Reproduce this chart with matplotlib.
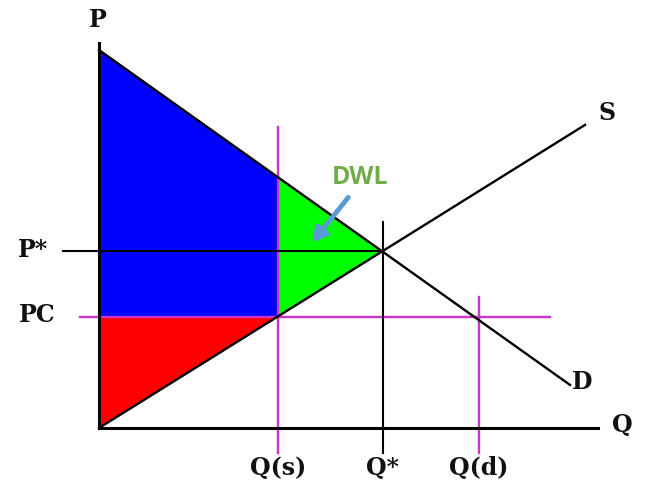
import matplotlib.pyplot as plt
from matplotlib.patches import Polygon

# model values (units: 1 unit ~ 37.8 px in the original picture)
demand_q = [0, 12.46]
demand_p = [10, 1.14]
supply_q = [0, 12.86]
supply_p = [0, 8.02]
q_s, q_star, q_d = 4.74, 7.51, 10.05
p_star, p_c = 4.68, 2.94
p_dem_qs = 6.63  # demand price at Q(s)

q_labels = ['Q(s)', 'Q*', 'Q(d)']

unit = 37.8
ox, oy = 99, 428
W, H = 646, 493

fig = plt.figure(figsize=(W / 100, H / 100), dpi=100)
ax = fig.add_axes([0, 0, 1, 1])
ax.set_xlim(-ox / unit, (W - ox) / unit)
ax.set_ylim(-(H - oy) / unit, oy / unit)
ax.axis('off')

blue = Polygon([(0, demand_p[0]), (q_s, p_dem_qs), (q_s, p_c), (0, p_c)],
               closed=True, fc='#0000ff', ec='none', zorder=1)
green = Polygon([(q_s, p_dem_qs), (q_star, p_star), (q_s, p_c)],
                closed=True, fc='#00ff00', ec='none', zorder=1)
red = Polygon([(0, p_c), (q_s, p_c), (0, 0)],
              closed=True, fc='#ff0000', ec='none', zorder=1)
for p in (blue, green, red):
    ax.add_patch(p)

mag = '#cc33cc'
# magenta guides
ax.plot([-0.5, 11.93], [p_c, p_c], color=mag, lw=1.7, zorder=2)
ax.plot([q_s, q_s], [7.96, -0.66], color=mag, lw=1.7, zorder=2)
ax.plot([q_d, q_d], [3.47, -0.66], color=mag, lw=1.7, zorder=2)

# black lines
ax.plot([-0.95, q_star], [p_star, p_star], color='black', lw=1.5, zorder=3)
ax.plot([q_star, q_star], [5.45, -0.66], color='black', lw=1.5, zorder=3)
ax.plot(demand_q, demand_p, color='black', lw=1.7, zorder=3)
ax.plot(supply_q, supply_p, color='black', lw=1.7, zorder=3)

# axes
ax.plot([0, 0], [0, 10.19], color='black', lw=2.2, zorder=4)
ax.plot([0, 13.2], [0, 0], color='black', lw=2.2, zorder=4)

lab = dict(family='DejaVu Serif', weight='bold', fontsize=17,
           ha='center', va='center', color='#111111')
ax.text(-0.03, 10.79, 'P', **lab)
ax.text(13.44, 8.33, 'S', **lab)
ax.text(12.78, 1.22, 'D', **lab)
ax.text(13.84, 0.08, 'Q', **lab)
ax.text(-1.75, 4.71, 'P*', **lab)
ax.text(-1.64, 2.99, 'PC', **lab)
for q, t in zip([q_s, q_star, q_d], q_labels):
    ax.text(q, -1.06, t, **lab)

ax.text(6.9, 6.64, 'DWL', family='Open Sans', weight='bold', fontsize=18,
        color='#70ad47', ha='center', va='center')
ax.annotate('', xy=(5.6, 4.85), xytext=(6.64, 6.16),
            arrowprops=dict(arrowstyle='-|>,head_width=0.45,head_length=0.8',
                            color='#5b9bd5', lw=3.5), zorder=5)

fig.savefig('out.png', dpi=100)
